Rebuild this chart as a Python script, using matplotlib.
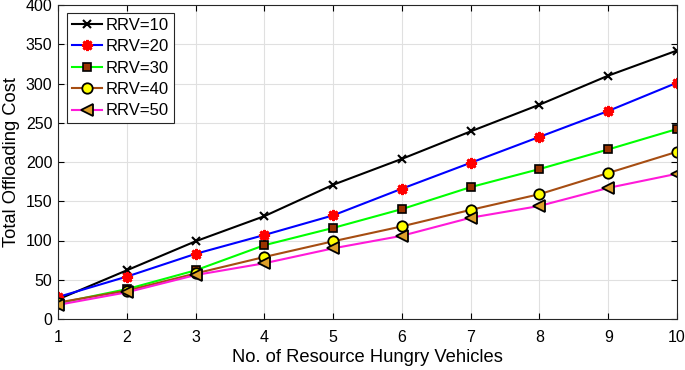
import numpy as np
import matplotlib
matplotlib.use('Agg')
from matplotlib import pyplot as plt

plt.rcParams['font.family'] = ['Liberation Sans', 'DejaVu Sans']

vehicles = [1, 2, 3, 4, 5, 6, 7, 8, 9, 10]
rrv10 = [25, 62, 99, 131, 171, 204, 239, 273, 310, 342]
rrv20 = [28, 54, 83, 107, 132, 166, 199, 232, 265, 301]
rrv30 = [20, 38, 62, 94, 116, 140, 168, 191, 216, 242]
rrv40 = [21, 36, 58, 79, 99, 118, 139, 159, 186, 213]
rrv50 = [18, 34, 56, 71, 90, 106, 129, 144, 167, 185]
labels = ['RRV=10', 'RRV=20', 'RRV=30', 'RRV=40', 'RRV=50']

fig = plt.figure(figsize=(6.85, 3.70), dpi=100)
ax = fig.add_axes([58 / 685, 51 / 370, 619 / 685, 314 / 370])

ax.plot(vehicles, rrv10, color='black', lw=1.5, marker='x', ms=6, mew=1.5, label=labels[0])
ax.plot(vehicles, rrv20, color='blue', lw=1.5, marker=(8, 2, 0), ms=8, mew=2,
        mec='red', mfc='red', label=labels[1])
ax.plot(vehicles, rrv30, color='#00ff00', lw=1.5, marker='s', ms=6, mew=1.2,
        mec='black', mfc='#9a3300', label=labels[2])
ax.plot(vehicles, rrv40, color='#a64d12', lw=1.5, marker='o', ms=7.5, mew=1.3,
        mec='black', mfc='yellow', label=labels[3])
ax.plot(vehicles, rrv50, color='#ff1ad9', lw=1.5, marker='<', ms=8.5, mew=1.3,
        mec='black', mfc='#dda02a', label=labels[4])

ax.set_xlim(1, 10)
ax.set_ylim(0, 400)
ax.set_xticks(range(1, 11))
ax.set_yticks(range(0, 401, 50))
ax.grid(True, color='#e0e0e0', lw=0.8)
ax.set_axisbelow(True)
ax.tick_params(direction='in', labelsize=11.5, length=4, top=True, right=True,
               labeltop=False, labelright=False)
ax.tick_params(axis='x', pad=8)
ax.tick_params(axis='y', pad=4)
for s in ax.spines.values():
    s.set_color('#262626')
    s.set_linewidth(0.8)

ax.set_xlabel('No. of Resource Hungry Vehicles', fontsize=13.2, labelpad=3)
ax.set_ylabel('Total Offloading Cost', fontsize=13.2, labelpad=4)

leg = ax.legend(loc='upper left', fontsize=12, fancybox=False, framealpha=1,
                edgecolor='#262626', handlelength=1.8, handletextpad=0.2,
                labelspacing=0.38, borderpad=0.3, borderaxespad=0,
                bbox_to_anchor=(9 / 619, 1 - 8 / 314))
leg.get_frame().set_linewidth(0.8)

fig.savefig('out.png', dpi=100)
